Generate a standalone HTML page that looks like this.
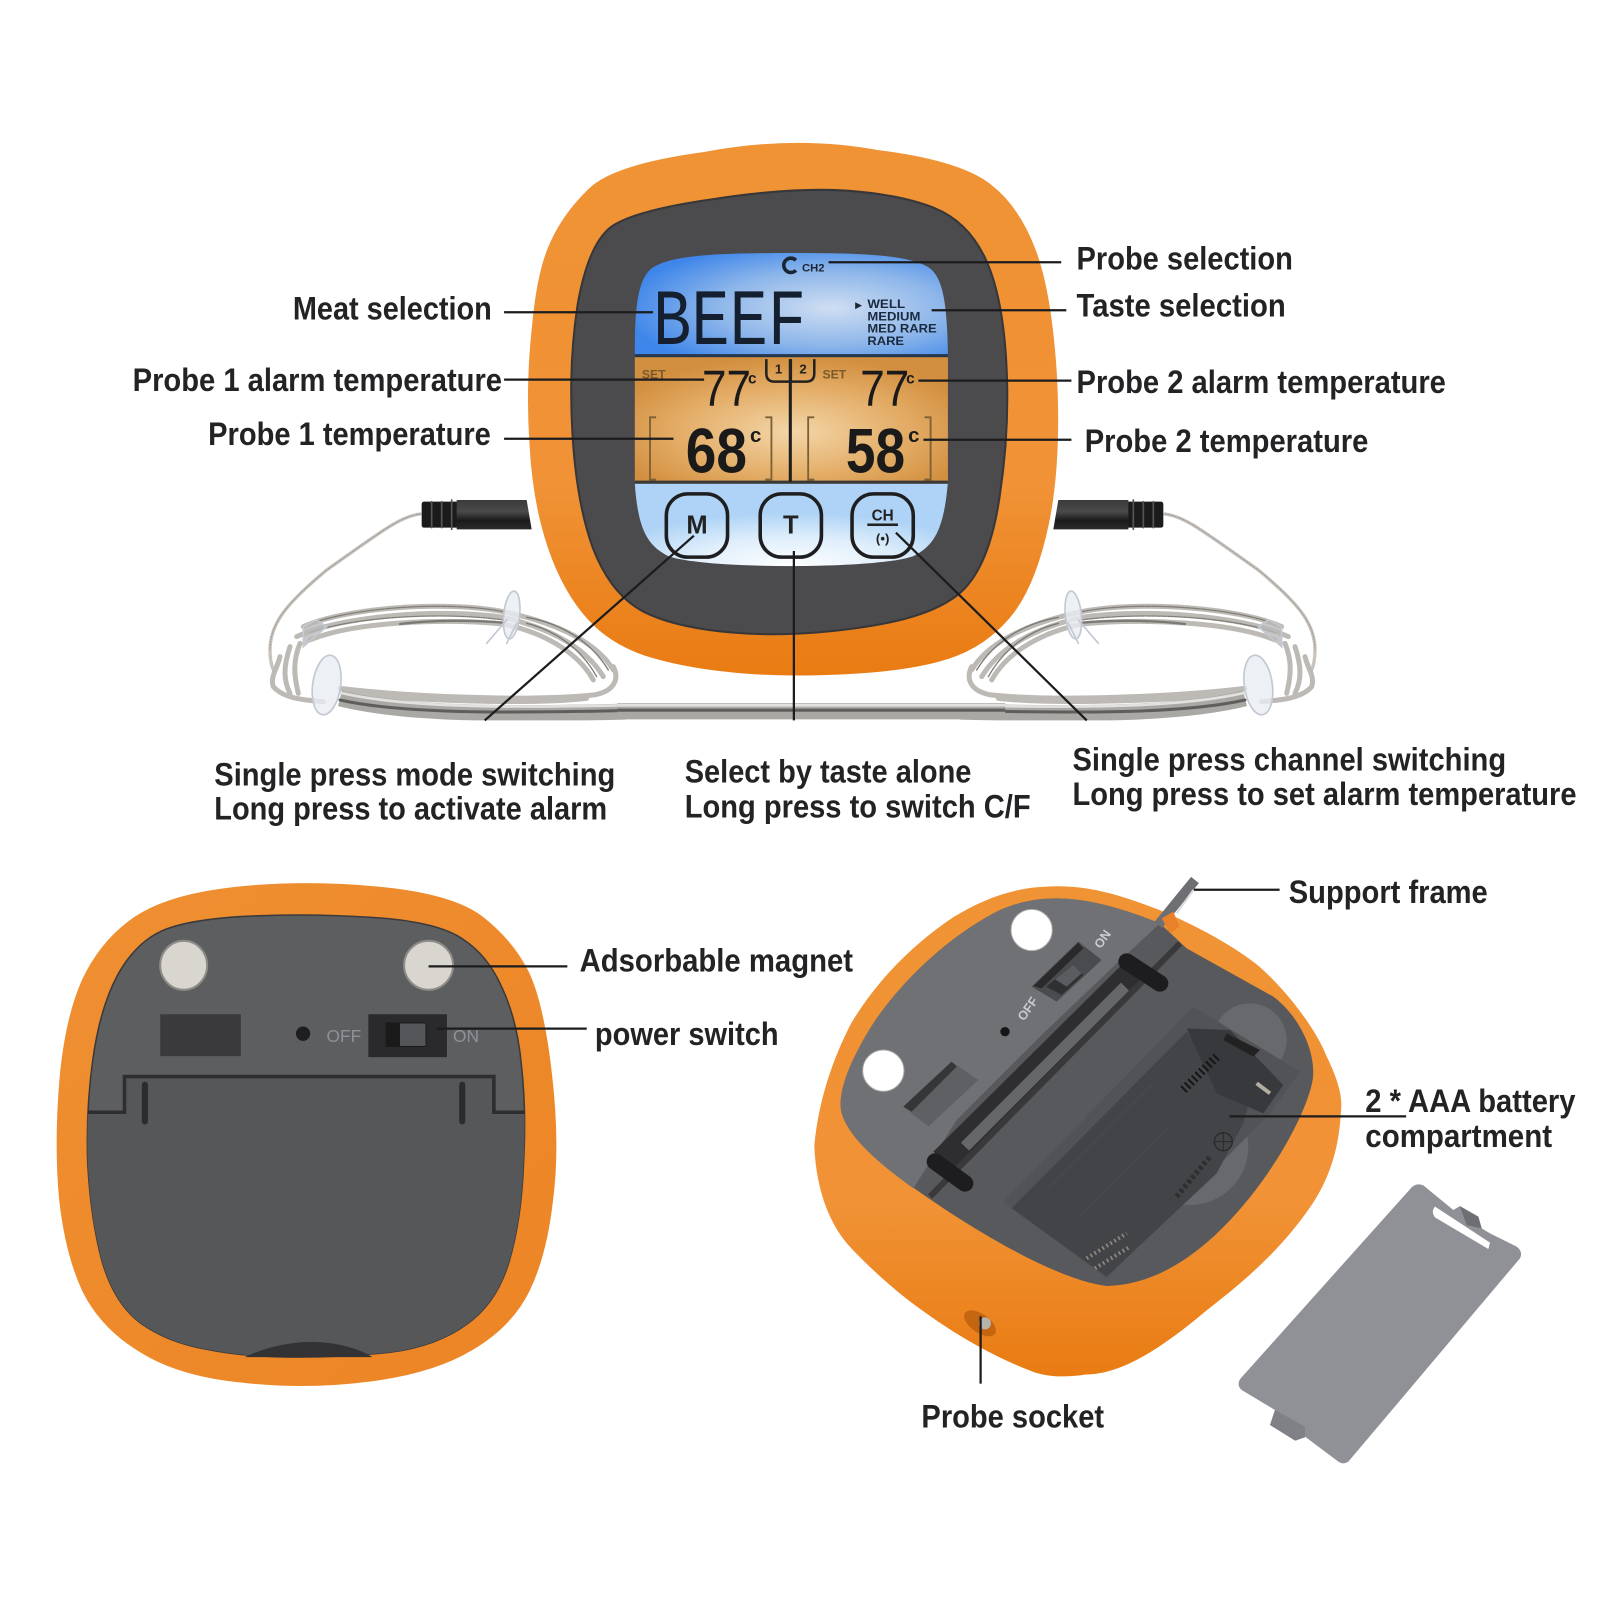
<!DOCTYPE html>
<html><head><meta charset="utf-8"><title>Thermometer diagram</title>
<style>
html,body{margin:0;padding:0;background:#fff}
svg{display:block}
text{font-family:"Liberation Sans",sans-serif}
.l{font-size:32px;font-weight:bold;fill:#232325}
</style></head><body>
<svg xmlns="http://www.w3.org/2000/svg" width="1600" height="1600" viewBox="0 0 1568 1568">
<defs>
<linearGradient id="or" x1="0" y1="0" x2="0" y2="1"><stop offset="0" stop-color="#ef9334"/><stop offset=".65" stop-color="#f09235"/><stop offset="1" stop-color="#e97b12"/></linearGradient>
<linearGradient id="or2" x1="0" y1="0" x2="1" y2="1"><stop offset="0" stop-color="#ef9032"/><stop offset="1" stop-color="#ec8424"/></linearGradient>
<radialGradient id="blue" cx=".62" cy=".55" r=".65"><stop offset="0" stop-color="#cfdef2"/><stop offset=".55" stop-color="#8db6ea"/><stop offset="1" stop-color="#3f86ea"/></radialGradient>
<radialGradient id="amb" cx=".5" cy=".6" r=".6"><stop offset="0" stop-color="#f3d6a8"/><stop offset=".6" stop-color="#e3ac66"/><stop offset="1" stop-color="#d28f3f"/></radialGradient>
<radialGradient id="lb" cx=".5" cy=".95" r=".62"><stop offset="0" stop-color="#ffffff"/><stop offset=".55" stop-color="#deeefb"/><stop offset="1" stop-color="#aed3f6"/></radialGradient>
<linearGradient id="plug" x1="0" y1="0" x2="0" y2="1"><stop offset="0" stop-color="#3a3a3a"/><stop offset=".4" stop-color="#4a4a4a"/><stop offset=".7" stop-color="#1a1a1a"/><stop offset="1" stop-color="#2a2a2a"/></linearGradient>
<clipPath id="scr"><path d="M775 248C850 248 890 250 910 262C925 272 928 300 929 348L929 472C925 520 915 535 895 545C860 558 690 558 655 545C635 535 625 520 622 472L622 348C622 300 625 272 640 262C660 250 700 248 775 248Z"/></clipPath>
<clipPath id="top"><rect x="0" y="0" width="1568" height="706"/></clipPath>
<clipPath id="backin"><path d="M241 898Q300 895 364 899Q428 903 453 920Q478 936 492 968Q507 1000 511 1044Q516 1088 513 1141Q511 1195 499 1236Q487 1277 457 1298Q428 1319 384 1325Q340 1330 290 1330Q240 1330 201 1322Q163 1315 137 1296Q112 1277 100 1236Q89 1195 86 1141Q84 1088 91 1038Q98 988 115 956Q132 925 157 913Q183 901 241 898Z"/></clipPath>
<g id="probe" fill="none" stroke-linecap="round">
 <path d="M480 102C420 110 370 150 200 270C80 370 30 430 30 510C30 540 35 560 42 575" stroke="#c8c3be" stroke-width="10"/>
 <path d="M480 102C420 110 370 150 200 270C80 370 30 430 30 510" stroke="#9c9792" stroke-width="3" stroke-dasharray="3 5"/>
 <g stroke="#bdbab5" stroke-width="15">
  <path d="M130 440C250 385 550 360 730 395C850 420 1000 470 1060 570"/>
  <path d="M110 470C250 405 550 385 730 412C850 440 970 490 1030 590"/>
  <path d="M150 480C280 425 550 415 730 432C840 455 950 510 1000 600"/>
  <path d="M60 530C50 570 30 590 40 620C70 655 130 660 190 665"/>
  <path d="M90 500C70 560 70 600 90 640"/>
  <path d="M120 490C100 540 100 580 115 640"/>
  <path d="M240 625C450 650 800 665 1000 645C1060 635 1080 600 1060 560"/>
  <path d="M250 640C450 660 800 675 980 655"/>
 </g>
 <g stroke="#7d7a76" stroke-width="4">
  <path d="M130 440C250 385 550 360 730 395" stroke-dasharray="3 4"/>
  <path d="M150 458C280 410 550 395 730 420" stroke-dasharray="3 4"/>
  <path d="M420 432C520 420 640 420 730 428" stroke-width="7"/>
  <path d="M800 430C880 450 960 500 1010 590"/>
  <path d="M800 412C900 430 990 480 1045 570"/>
 </g>
 <path d="M240 655C420 700 700 705 1095 695" stroke="#a9a8a5" stroke-width="48" stroke-linecap="butt"/>
 <path d="M240 638C420 680 700 685 1095 676" stroke="#e2e1df" stroke-width="8"/>
 <path d="M240 660C420 700 700 700 1095 692" stroke="#5f5e5c" stroke-width="9"/>
 <g fill="#e8ecf2" fill-opacity=".8" stroke="#c4c8d2" stroke-width="5">
  <ellipse cx="755" cy="405" rx="24" ry="72" transform="rotate(6 755 405)"/>
  <path d="M740 420L680 490M770 430L740 490"/>
  <ellipse cx="200" cy="615" rx="42" ry="90" transform="rotate(8 200 615)"/>
  <path d="M130 440L170 420L200 440L130 500Z" fill="#b9b9b9"/>
 </g>
 <rect x="485" y="65" width="110" height="78" rx="7" fill="#1b1b1b" stroke="none"/>
 <path d="M515 65V143M545 65V143M575 60V148" stroke="#555" stroke-width="5"/>
 <path d="M590 60H800L815 148H590Z" fill="url(#plug)" stroke="none"/>
</g>
</defs>
<rect width="1568" height="1568" fill="#fff"/>

<!-- probes -->
<g clip-path="url(#top)">
 <use href="#probe" transform="scale(.98) translate(260 480) scale(.33333)"/>
 <use href="#probe" transform="scale(.98) translate(960 480) scale(.33333) translate(1095 0) scale(-1 1)"/>
 <path d="M605 697H985" stroke="#a9a8a5" stroke-width="16" fill="none"/>
 <path d="M605 691H985" stroke="#e2e1df" stroke-width="3" fill="none"/>
 <path d="M605 696H985" stroke="#5f5e5c" stroke-width="3" fill="none"/>
</g>

<!-- main device -->
<path d="M690 149Q779 132 860 147Q940 157 970 180Q999 202 1015 245Q1031 287 1036 371Q1040 455 1028 513Q1016 570 994 600Q971 630 937 643Q903 656 841 660Q779 664 729 660Q678 656 640 645Q601 634 577 608Q552 581 537 537Q522 493 519 437Q515 380 521 323Q526 266 539 238Q552 209 577 185Q601 161 690 149Z" fill="url(#or)"/>
<path d="M700 195Q779 183 832 187Q884 191 916 204Q948 217 965 252Q982 287 986 352Q990 418 980 484Q971 549 946 576Q921 603 850 614Q779 625 719 620Q659 615 628 598Q598 581 581 537Q565 493 561 425Q557 357 566 299Q576 241 598 223Q621 206 700 195Z" fill="#4b4b4e" stroke="#37373a" stroke-width="2"/>
<g clip-path="url(#scr)">
 <rect x="620" y="246" width="312" height="102" fill="url(#blue)"/>
 <rect x="620" y="350" width="312" height="122" fill="url(#amb)"/>
 <rect x="620" y="474" width="312" height="86" fill="url(#lb)"/>
 <rect x="620" y="347" width="312" height="3" fill="#26384f"/>
 <rect x="620" y="471" width="312" height="3" fill="#3b3a36"/>
</g>
<rect x="773" y="352" width="3" height="120" fill="#1e1e1e"/>
<path d="M751 352V366Q751 374 759 374H775V352M776 374H790Q798 374 798 366V352" fill="none" stroke="#222" stroke-width="2.5"/>
<text x="763" y="366" font-size="13" font-weight="bold" text-anchor="middle" fill="#222">1</text>
<text x="787" y="366" font-size="13" font-weight="bold" text-anchor="middle" fill="#222">2</text>
<path d="M780 255A7 7 0 1 0 780 265" fill="none" stroke="#1a2533" stroke-width="3.5"/>
<text x="786" y="266" font-size="11" font-weight="bold" fill="#1a2533">CH2</text>
<text x="640" y="337" style="font-family:'Liberation Mono',monospace" font-size="78" fill="#142030" textLength="150" lengthAdjust="spacingAndGlyphs">BEEF</text>
<text x="838" y="302" font-size="9" fill="#1a2533">▶</text>
<g font-size="12" font-weight="bold" fill="#1b2a3f">
 <text x="850" y="302" textLength="37" lengthAdjust="spacingAndGlyphs">WELL</text>
 <text x="850" y="314" textLength="52" lengthAdjust="spacingAndGlyphs">MEDIUM</text>
 <text x="850" y="326" textLength="68" lengthAdjust="spacingAndGlyphs">MED RARE</text>
 <text x="850" y="338" textLength="36" lengthAdjust="spacingAndGlyphs">RARE</text>
</g>
<g font-size="12" font-weight="bold" fill="#7a5a2a"><text x="629" y="371">SET</text><text x="806" y="371">SET</text></g>
<g fill="#1a1a1a">
 <text x="688" y="398" font-size="50" textLength="48" lengthAdjust="spacingAndGlyphs">77</text>
 <text x="843" y="398" font-size="50" textLength="48" lengthAdjust="spacingAndGlyphs">77</text>
 <g font-weight="bold">
 <text x="672" y="463" font-size="62" textLength="60" lengthAdjust="spacingAndGlyphs">68</text>
 <text x="829" y="463" font-size="62" textLength="58" lengthAdjust="spacingAndGlyphs">58</text>
 <text x="733" y="376" font-size="15">c</text><text x="888" y="376" font-size="15">c</text>
 <text x="735" y="433" font-size="20">c</text><text x="890" y="433" font-size="20">c</text>
 </g>
</g>
<path d="M643 409H637V470H643M750 409H756V470H750M798 409H792V470H798M906 409H912V470H906" fill="none" stroke="#7d6036" stroke-width="1.8"/>
<g fill="none" stroke="#1e1e20" stroke-width="3.5">
 <rect x="653" y="484" width="60" height="62" rx="21"/>
 <rect x="745" y="484" width="60" height="62" rx="21"/>
 <rect x="835" y="484" width="60" height="62" rx="21"/>
</g>
<text x="683" y="523" font-size="25" font-weight="bold" text-anchor="middle" fill="#222">M</text>
<text x="775" y="523" font-size="25" font-weight="bold" text-anchor="middle" fill="#222">T</text>
<text x="865" y="510" font-size="15" font-weight="bold" text-anchor="middle" fill="#222">CH</text>
<rect x="850" y="513" width="30" height="2.5" fill="#222"/>
<text x="865" y="532" font-size="13" font-weight="bold" text-anchor="middle" fill="#222">(•)</text>

<!-- back device -->
<path d="M232 869Q300 862 372 869Q445 876 474 899Q503 922 518 952Q533 983 541 1053Q549 1123 542 1176Q536 1230 519 1265Q502 1300 463 1323Q425 1346 362 1354Q300 1362 237 1355Q175 1349 137 1325Q99 1302 81 1266Q64 1230 58 1176Q53 1123 58 1061Q63 1000 80 961Q98 922 131 899Q165 876 232 869Z" fill="url(#or2)"/>
<path d="M241 898Q300 895 364 899Q428 903 453 920Q478 936 492 968Q507 1000 511 1044Q516 1088 513 1141Q511 1195 499 1236Q487 1277 457 1298Q428 1319 384 1325Q340 1330 290 1330Q240 1330 201 1322Q163 1315 137 1296Q112 1277 100 1236Q89 1195 86 1141Q84 1088 91 1038Q98 988 115 956Q132 925 157 913Q183 901 241 898Z" fill="#5d5e60" stroke="#3a3a3c" stroke-width="1.5"/>
<path clip-path="url(#backin)" d="M80 1092H122V1057H484V1092H520V1335H80Z" fill="#565759"/>
<path clip-path="url(#backin)" d="M80 1090H122V1055H484V1090H520" fill="none" stroke="#2e2e30" stroke-width="3.5"/>
<rect x="139" y="1060" width="6" height="42" rx="3" fill="#2c2c2e"/><rect x="450" y="1060" width="6" height="42" rx="3" fill="#2c2c2e"/>
<path d="M240 1330C260 1320 285 1315 305 1315C325 1315 350 1320 365 1330Z" fill="#333335"/>
<ellipse cx="180" cy="946" rx="23" ry="24" fill="#d9d6d0" stroke="#8d8c88" stroke-width="2"/><ellipse cx="420" cy="946" rx="24" ry="24" fill="#d9d6d0" stroke="#8d8c88" stroke-width="2"/>
<rect x="157" y="994" width="79" height="41" fill="#3a3a3c"/>
<circle cx="297" cy="1013" r="7" fill="#1e1e20"/>
<text x="320" y="1021" font-size="17" fill="#8d9299">OFF</text>
<rect x="361" y="994" width="77" height="42" fill="#2a2a2c"/>
<rect x="378" y="1002" width="40" height="24" fill="#1a1a1a"/><rect x="392" y="1003" width="25" height="22" fill="#55565a"/>
<text x="444" y="1021" font-size="17" fill="#8d9299">ON</text>

<!-- open device -->
<path d="M1024 869C1065 866 1100 878 1134 891C1175 908 1210 928 1234 947C1265 975 1290 1010 1300 1035C1312 1060 1316 1075 1314 1091C1312 1130 1300 1160 1284 1183C1255 1225 1220 1255 1184 1283C1140 1320 1100 1347 1064 1347C1045 1350 1025 1350 1009 1343C975 1330 940 1310 909 1288C880 1268 855 1245 834 1223C815 1203 800 1170 798 1123C802 1080 815 1040 834 1003C860 960 895 925 934 899C965 880 995 870 1024 869Z" fill="url(#or)"/>
<g transform="scale(.98) translate(840 880) scale(.33333)">
 <path d="M650 55C750 55 860 90 960 130L1040 205L1300 350C1380 410 1430 520 1418 600C1400 700 1300 880 1180 1010C1080 1120 950 1215 800 1218C650 1200 400 1050 230 930C130 860 30 780 5 700C-10 640 30 540 100 430C180 310 320 170 480 90C540 65 590 55 650 55Z" fill="#58595c"/>
 <path d="M650 55C750 55 860 90 960 130L820 260L610 460L350 720L220 925C130 860 30 780 5 700C-10 640 30 540 100 430C180 310 320 170 480 90C540 65 590 55 650 55Z" fill="#707175"/>
 <circle cx="1230" cy="480" r="110" fill="#68696c"/>
 <circle cx="1050" cy="800" r="175" fill="#68696c"/>
 <path d="M1060 380L1380 575L1290 700L800 1195L490 965Z" fill="#525356"/>
 <path d="M515 985L1040 455L1240 620L1210 730L1130 880L800 1190Z" fill="#434447"/>
 <path d="M1040 445L1170 450L1330 615L1270 700L1130 640Z" fill="#38393c"/>
 <path d="M1160 460L1260 510L1240 530L1150 480Z" fill="#222"/>
 <path d="M1130 530L1025 635" stroke="#161618" stroke-width="26" stroke-dasharray="6 9" fill="none"/>
 <path d="M1250 610L1290 640" stroke="#b2aea2" stroke-width="12" fill="none"/>
 <circle cx="1150" cy="785" r="27" fill="none" stroke="#2a2a2c" stroke-width="4"/>
 <path d="M1123 785H1177M1150 758V812" stroke="#2a2a2c" stroke-width="3"/>
 <path d="M1010 950L1110 830" stroke="#2f2f31" stroke-width="16" stroke-dasharray="10 8" fill="none"/>
 <path d="M740 1135L860 1060M765 1165L870 1100" stroke="#8d8a80" stroke-width="12" stroke-dasharray="5 9" fill="none"/>
 <path d="M620 930L940 610M720 1010L1000 730" stroke="#4a4b4e" stroke-width="3" fill="none"/>
 <path d="M880 280L310 845" stroke="#2e2e30" stroke-width="85" fill="none"/>
 <path d="M855 320L375 800" stroke="#66676a" stroke-width="34" fill="none"/>
 <path d="M1020 190L270 950" stroke="#39393c" stroke-width="18" fill="none"/>
 <path d="M860 245L960 310M285 845L375 910" stroke="#1d1d1f" stroke-width="50" stroke-linecap="round" fill="none"/>
 <path d="M1065 0L955 135" stroke="#6e6f72" stroke-width="30" fill="none"/>
 <path d="M1060 30L1010 100" stroke="#dcdcdc" stroke-width="6" fill="none"/>
 <path d="M965 115L1000 95L1018 140L990 160Z" fill="#e8812a"/>
 <circle cx="575" cy="150" r="62" fill="#fff" stroke="#aaa" stroke-width="3"/>
 <circle cx="130" cy="572" r="62" fill="#fff" stroke="#aaa" stroke-width="3"/>
 <path d="M190 680L335 545L415 600L265 740Z" fill="#5f6063"/>
 <path d="M190 680L335 545L350 560L215 695Z" fill="#353638"/>
 <path d="M575 320L715 185L785 240L650 365Z" fill="#4a4b4e"/>
 <path d="M580 318L715 188L730 205L605 325Z" fill="#2a2a2c"/>
 <path d="M618 320L700 255L730 285L665 345Z" fill="#2f3032"/>
 <path d="M645 298L700 255L725 280L680 320Z" fill="#5b5c5f"/>
 <circle cx="495" cy="455" r="14" fill="#161618"/>
 <text transform="translate(552 425) rotate(-55)" font-size="38" font-weight="bold" fill="#c9cbce">OFF</text>
 <text transform="translate(782 208) rotate(-55)" font-size="38" font-weight="bold" fill="#c9cbce">ON</text>
 <ellipse cx="420" cy="1330" rx="55" ry="28" transform="rotate(35 420 1330)" fill="#c46510"/>
 <circle cx="435" cy="1330" r="18" fill="#b5b3ac"/>
</g>

<!-- battery lid -->
<g transform="scale(.98) translate(1220 1160) scale(.33333)">
 <path d="M575 82Q590 68 610 76L700 150L720 138L775 170L785 205L810 220L890 260Q910 275 900 295L385 905Q370 915 355 905L255 830L228 842L150 795L165 750L65 690Q48 675 62 655Z" fill="#8f9196"/>
 <path d="M720 140L775 170L785 205L740 195Z" fill="#6d6f73"/>
 <path d="M165 750L255 800L255 832L225 842L150 795Z" fill="#7f8186"/>
 <path d="M645 140L810 248L805 267L645 172Q632 155 645 140Z" fill="#fff"/>
</g>

<!-- lines -->
<g stroke="#1c1c1e" stroke-width="2.2" fill="none">
 <path d="M812 257H1040M913 304H1045M900 373H1050M905 431H1050M494 306H640M494 372H690M494 430H660"/>
 <path d="M680 525L475 706M778 540V706M878 522L1065 706"/>
 <path d="M420 947H556M428 1008H575M1170 872H1254M1205 1094H1378M961 1290V1356"/>
</g>

<!-- labels -->
<g>
<text class="l" x="1055" y="264" textLength="212" lengthAdjust="spacingAndGlyphs">Probe selection</text>
<text class="l" x="1055" y="310" textLength="205" lengthAdjust="spacingAndGlyphs">Taste selection</text>
<text class="l" x="1055" y="385" textLength="362" lengthAdjust="spacingAndGlyphs">Probe 2 alarm temperature</text>
<text class="l" x="1063" y="443" textLength="278" lengthAdjust="spacingAndGlyphs">Probe 2 temperature</text>
<text class="l" x="287" y="313" textLength="195" lengthAdjust="spacingAndGlyphs">Meat selection</text>
<text class="l" x="130" y="383" textLength="362" lengthAdjust="spacingAndGlyphs">Probe 1 alarm temperature</text>
<text class="l" x="204" y="436" textLength="277" lengthAdjust="spacingAndGlyphs">Probe 1 temperature</text>
<text class="l" x="210" y="770" textLength="393" lengthAdjust="spacingAndGlyphs">Single press mode switching</text>
<text class="l" x="210" y="803" textLength="385" lengthAdjust="spacingAndGlyphs">Long press to activate alarm</text>
<text class="l" x="671" y="767" textLength="281" lengthAdjust="spacingAndGlyphs">Select by taste alone</text>
<text class="l" x="671" y="801" textLength="339" lengthAdjust="spacingAndGlyphs">Long press to switch C/F</text>
<text class="l" x="1051" y="755" textLength="425" lengthAdjust="spacingAndGlyphs">Single press channel switching</text>
<text class="l" x="1051" y="789" textLength="494" lengthAdjust="spacingAndGlyphs">Long press to set alarm temperature</text>
<text class="l" x="568" y="952" textLength="268" lengthAdjust="spacingAndGlyphs">Adsorbable magnet</text>
<text class="l" x="583" y="1024" textLength="180" lengthAdjust="spacingAndGlyphs">power switch</text>
<text class="l" x="1263" y="885" textLength="195" lengthAdjust="spacingAndGlyphs">Support frame</text>
<text class="l" x="1338" y="1090" textLength="206" lengthAdjust="spacingAndGlyphs">2 * AAA battery</text>
<text class="l" x="1338" y="1124" textLength="183" lengthAdjust="spacingAndGlyphs">compartment</text>
<text class="l" x="903" y="1399" textLength="179" lengthAdjust="spacingAndGlyphs">Probe socket</text>
</g>
</svg>
</body></html>
